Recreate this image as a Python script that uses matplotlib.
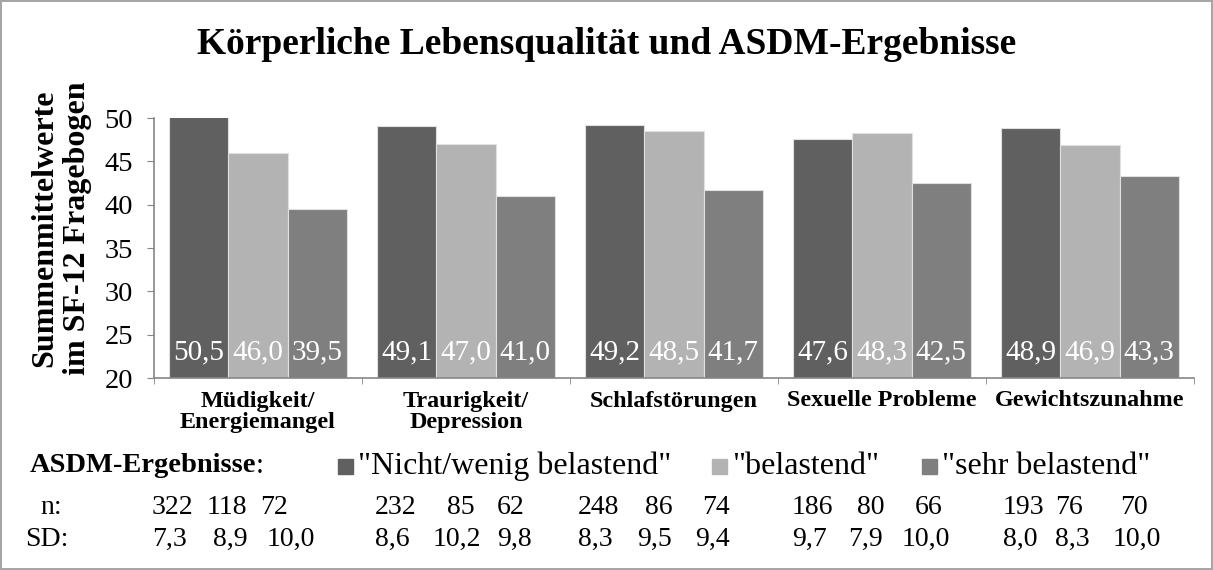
import numpy as np
import matplotlib
matplotlib.use('Agg')
import matplotlib.pyplot as plt
from matplotlib.patches import Rectangle

# Data
categories = ['Müdigkeit/\nEnergiemangel', 'Traurigkeit/\nDepression', 'Schlafstörungen',
              'Sexuelle Probleme', 'Gewichtszunahme']
groups = ['"Nicht/wenig belastend"', '"belastend"', '"sehr belastend"']
nicht_wenig = [50.5, 49.1, 49.2, 47.6, 48.9]
belastend = [46.0, 47.0, 48.5, 48.3, 46.9]
sehr_belastend = [39.5, 41.0, 41.7, 42.5, 43.3]
n_values = [322, 118, 72, 232, 85, 62, 248, 86, 74, 186, 80, 66, 193, 76, 70]
sd_values = ['7,3', '8,9', '10,0', '8,6', '10,2', '9,8', '8,3', '9,5', '9,4',
             '9,7', '7,9', '10,0', '8,0', '8,3', '10,0']

colors = ['#606060', '#b3b3b3', '#7f7f7f']

# pixel x positions of the table entries (left edge), the table is plain text under the chart
n_x = [152, 207, 260, 375, 447, 497, 578, 645, 702, 792, 857, 915, 1003, 1055, 1120]
sd_x = [152, 213, 267, 375, 433, 497, 578, 637, 695, 792, 848, 902, 1003, 1055, 1113]
square_x = [338, 712, 922]

plt.rcParams['font.family'] = 'Liberation Serif'

W, H = 1213, 570
fig = plt.figure(figsize=(W / 100, H / 100), dpi=100, linewidth=1.5, edgecolor='#a6a6a6')
ax = fig.add_axes([154 / W, 1 - 378 / H, (1194 - 154) / W, (378 - 118) / H])

series = [nicht_wenig, belastend, sehr_belastend]
x = np.arange(len(categories))
bw = 0.284
for i, vals in enumerate(series):
    pos = x + (i - 1) * bw
    ax.bar(pos, vals, width=bw, color=colors[i], edgecolor='#e0e0e0', linewidth=0.8, zorder=2)
    for p, v in zip(pos, vals):
        ax.text(p, 22.1, f'{v:.1f}'.replace('.', ','), ha='center', va='baseline',
                color='white', fontsize=21, zorder=3)

ax.set_ylim(20, 50)
ax.set_xlim(-0.5, len(categories) - 0.5)
ax.set_yticks(range(20, 51, 5))
ax.tick_params(axis='y', labelsize=20.5, length=5, color='#868686', pad=10)
ax.set_xticks(x)
ax.set_xticklabels(categories, fontsize=17.4, fontweight='bold', linespacing=1.05)
ax.tick_params(axis='x', length=0, pad=9)
ax.set_xticks(np.arange(-0.5, len(categories)), minor=True)
ax.tick_params(axis='x', which='minor', length=4.5, color='#868686')
for s in ['top', 'right']:
    ax.spines[s].set_visible(False)
for s in ['left', 'bottom']:
    ax.spines[s].set_color('#868686')
    ax.spines[s].set_linewidth(1.2)

fig.text(61 / W, 1 - 228 / H, 'Summenmittelwerte\nim SF-12 Fragebogen', rotation=90,
         ha='center', va='center', multialignment='center', fontsize=23,
         fontweight='bold', linespacing=1.2)

fig.text(0.5, 1 - 45 / H, 'Körperliche Lebensqualität und ASDM-Ergebnisse',
         ha='center', va='center', fontsize=27, fontweight='bold')

# legend row
leg_y = 1 - 466 / H
fig.text(30 / W, leg_y, 'ASDM-Ergebnisse', ha='left', va='center', fontsize=20.5, fontweight='bold')
fig.text(256 / W, leg_y, ':', ha='left', va='center', fontsize=21)
for sx, c, g in zip(square_x, colors, groups):
    fig.patches.append(Rectangle((sx / W, leg_y - 8 / H), 15 / W, 15 / H,
                                 transform=fig.transFigure, color=c, figure=fig))
    fig.text((sx + 20) / W, leg_y, g, ha='left', va='center', fontsize=23)

# n / SD table
n_y = 1 - 508 / H
sd_y = 1 - 539 / H
fig.text(40 / W, n_y, 'n:', ha='left', va='center', fontsize=20)
fig.text(25 / W, sd_y, 'SD:', ha='left', va='center', fontsize=20)
for px, v in zip(n_x, n_values):
    fig.text(px / W, n_y, str(v), ha='left', va='center', fontsize=20)
for px, v in zip(sd_x, sd_values):
    fig.text(px / W, sd_y, v, ha='left', va='center', fontsize=20)

fig.savefig('out.png', dpi=100)
